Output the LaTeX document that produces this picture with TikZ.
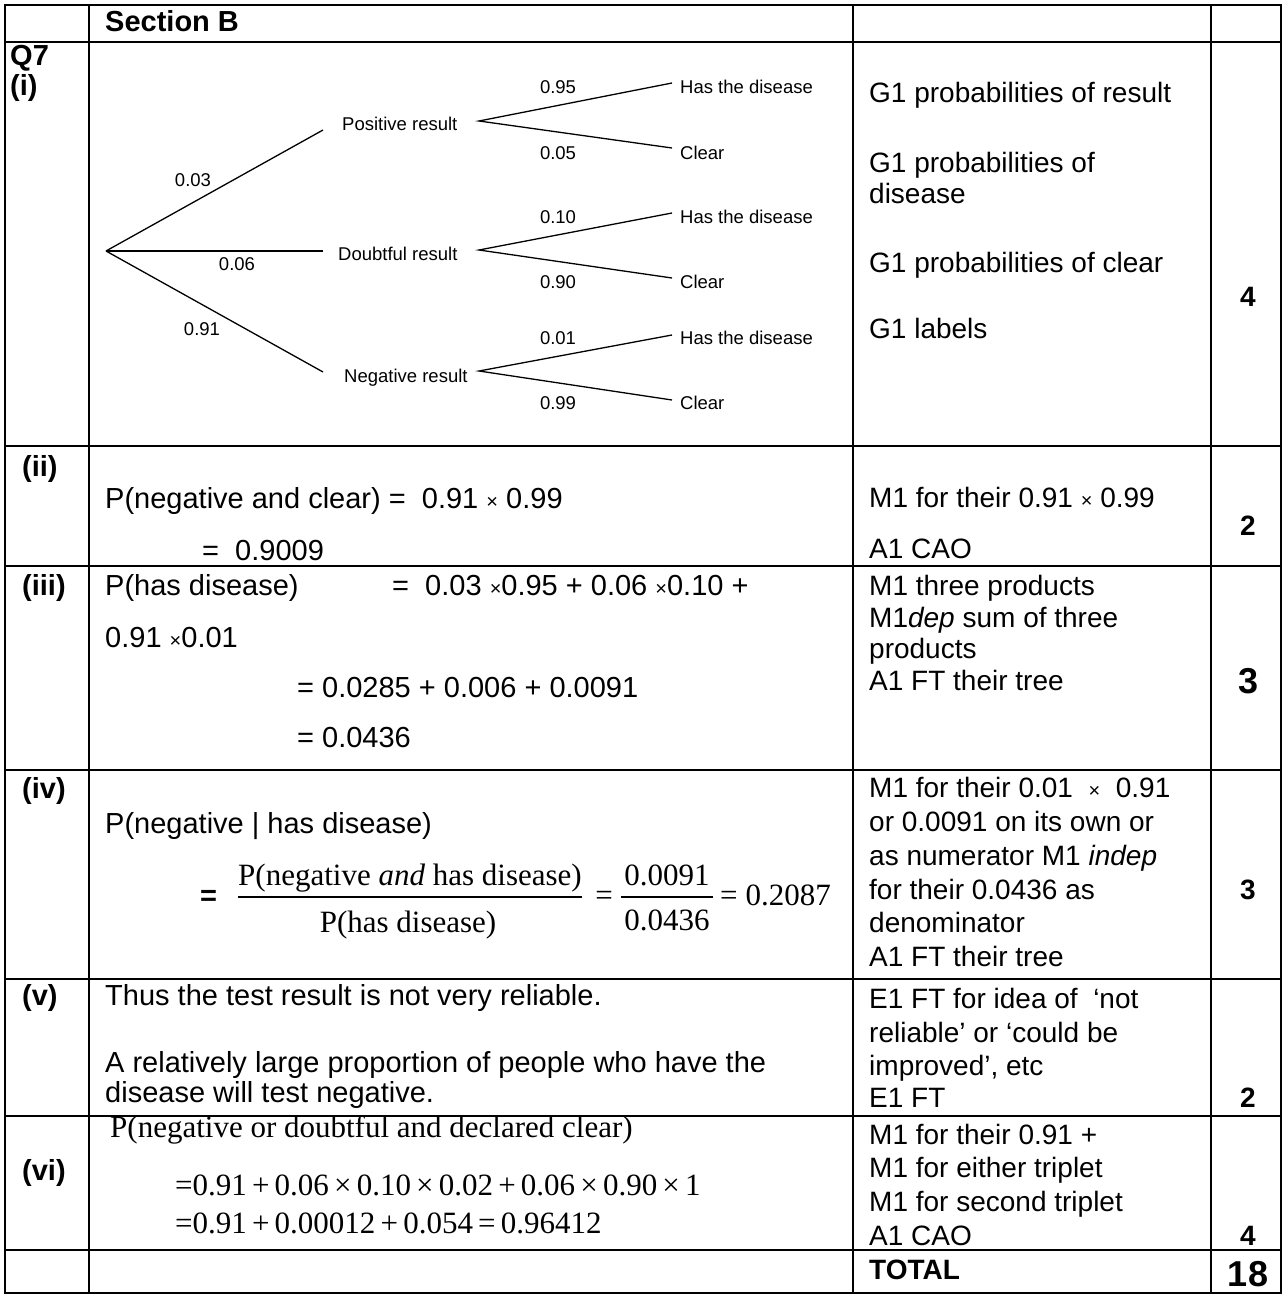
\documentclass[tikz,border=0pt]{standalone}
\usepackage{fontspec}
\setmainfont{Liberation Sans}
\newfontfamily\tms{Liberation Serif}
\begin{document}
\begin{tikzpicture}[x=1pt,y=-1pt,
  grid/.style={line width=2.2pt},
  br/.style={line width=1.3pt},
  fbar/.style={line width=1.3pt},
  tl/.style={anchor=base west,inner sep=0pt,font=\fontsize{29}{34}\selectfont},
  tb/.style={anchor=base west,inner sep=0pt,font=\fontsize{29}{34}\selectfont\bfseries},
  rt/.style={anchor=base west,inner sep=0pt,font=\fontsize{28}{33}\selectfont},
  mk/.style={anchor=base,inner sep=0pt,font=\fontsize{28}{33}\selectfont\bfseries},
  mkbig/.style={anchor=base,inner sep=0pt,font=\fontsize{36}{38}\selectfont\bfseries},
  tr/.style={anchor=base west,inner sep=0pt,font=\fontsize{18.5}{22}\selectfont},
  pr/.style={anchor=base,inner sep=0pt,font=\fontsize{18.5}{22}\selectfont},
  tm/.style={anchor=base west,inner sep=0pt,font=\fontsize{31}{36}\tms},
]
\fill[white] (0,0) rectangle (1284,1295);
\useasboundingbox (0,0) rectangle (1284,1295);
% table grid
\foreach \yy in {5,42,446,566,770,979,1116,1250,1293}
  \draw[grid] (4,\yy) -- (1282,\yy);
\foreach \xx in {5,89,853,1211,1281}
  \draw[grid] (\xx,4) -- (\xx,1294);
% headings
\node[tb] (secb) at (105,32) {Section B};
\node[tb] (q7) at (10,66) {Q7};
\node[tb] (qi) at (10,96) {(i)};
\node[tb] (qii) at (22,476) {(ii)};
\node[tb] (qiii) at (22,595) {(iii)};
\node[tb] (qiv) at (22,798) {(iv)};
\node[tb] (qv) at (22,1005) {(v)};
\node[tb] (qvi) at (22,1180) {(vi)};
% tree
\coordinate (root) at (106,251);
\coordinate (pe) at (323,130);
\coordinate (de) at (323,251);
\coordinate (ne) at (323,372);
\coordinate (pf) at (479,121);
\coordinate (df) at (479,250);
\coordinate (nf) at (479,371);
\coordinate (p1) at (672,83);
\coordinate (p2) at (672,148);
\coordinate (d1) at (672,213);
\coordinate (d2) at (672,278);
\coordinate (n1) at (672,335);
\coordinate (n2) at (672,400);
\draw[br] (root) -- (pe);
\draw[br] (root) -- (de);
\draw[br] (root) -- (ne);
\draw[br] (p1) -- (pf) -- (p2);
\draw[br] (d1) -- (df) -- (d2);
\draw[br] (n1) -- (nf) -- (n2);
\node[tr] (pos) at (342,131) {Positive result};
\node[tr] (dou) at (338,260) {Doubtful result};
\node[tr] (neg) at (344,382) {Negative result};
\node[pr] (l03) at (193,186) {0.03};
\node[pr] (l06) at (237,270) {0.06};
\node[pr] (l91) at (202,335) {0.91};
\node[pr] (l95) at (558,94) {0.95};
\node[pr] (l05) at (558,159) {0.05};
\node[pr] (l10) at (558,223) {0.10};
\node[pr] (l90) at (558,288) {0.90};
\node[pr] (l01) at (558,344) {0.01};
\node[pr] (l99) at (558,409) {0.99};
\node[tr] (hd1) at (680,94) {Has the disease};
\node[tr] (cl1) at (680,159) {Clear};
\node[tr] (hd2) at (680,223) {Has the disease};
\node[tr] (cl2) at (680,288) {Clear};
\node[tr] (hd3) at (680,344) {Has the disease};
\node[tr] (cl3) at (680,409) {Clear};
% row (i) marks
\node[rt] (g1) at (869,103) {G1 probabilities of result};
\node[rt] (g2) at (869,172) {G1 probabilities of};
\node[rt] (g2b) at (869,203) {disease};
\node[rt] (g3) at (869,272) {G1 probabilities of clear};
\node[rt] (g4) at (869,338) {G1 labels};
\node[mk] (m1) at (1248,306) {4};
% row (ii)
\node[tl] (a2a) at (105,508) {P(negative and clear) =\ \ 0.91 {\fontsize{20}{24}\selectfont×}\ 0.99};
\node[tl] (a2b) at (202,560) {=\ \ 0.9009};
\node[rt] (r2a) at (869,507) {M1 for their 0.91 {\fontsize{20}{24}\selectfont×}\ 0.99};
\node[rt] (r2b) at (869,558) {A1 CAO};
\node[mk] (m2) at (1248,535) {2};
% row (iii)
\node[tl] (a3a) at (105,595) {P(has disease)};
\node[tl] (a3b) at (392,595) {=\ \ 0.03 {\fontsize{20}{24}\selectfont×}0.95 + 0.06 {\fontsize{20}{24}\selectfont×}0.10 +};
\node[tl] (a3c) at (105,647) {0.91 {\fontsize{20}{24}\selectfont×}0.01};
\node[tl] (a3d) at (297,697) {= 0.0285 + 0.006 + 0.0091};
\node[tl] (a3e) at (297,747) {= 0.0436};
\node[rt] (r3a) at (869,595) {M1 three products};
\node[rt] (r3b) at (869,627) {M1\textit{dep} sum of three};
\node[rt] (r3c) at (869,658) {products};
\node[rt] (r3d) at (869,690) {A1 FT their tree};
\node[mkbig] (m3) at (1248,693) {3};
% row (iv)
\node[tl] (a4a) at (105,833) {P(negative | has disease)};
\node[tb] (a4eq) at (200,905) {=};
\node[tm,anchor=base] (f1n) at (410,885) {P(negative \textit{and} has disease)};
\node[tm,anchor=base] (f1d) at (408,932) {P(has disease)};
\draw[fbar] ([yshift=-12pt]f1n.base west) -- ([yshift=-12pt]f1n.base east);
\node[tm,anchor=base] (eqa) at (604,905) {=};
\node[tm,anchor=base] (f2n) at (667,885) {0.0091};
\node[tm,anchor=base] (f2d) at (667,930) {0.0436};
\draw[fbar] ([xshift=-3pt,yshift=-12pt]f2n.base west) -- ([xshift=3pt,yshift=-12pt]f2n.base east);
\node[tm] (res) at (720,905) {=\hspace{8pt}0.2087};
\node[rt] (r4a) at (869,797) {M1 for their 0.01 \ {\fontsize{20}{24}\selectfont×}\ \ 0.91};
\node[rt] (r4b) at (869,831) {or 0.0091 on its own or};
\node[rt] (r4c) at (869,865) {as numerator M1 \textit{indep}};
\node[rt] (r4d) at (869,899) {for their 0.0436 as};
\node[rt] (r4e) at (869,932) {denominator};
\node[rt] (r4f) at (869,966) {A1 FT their tree};
\node[mk] (m4) at (1248,899) {3};
% row (v)
\node[tl] (a5a) at (105,1005) {Thus the test result is not very reliable.};
\node[tl] (a5b) at (105,1072) {A relatively large proportion of people who have the};
\node[tl] (a5c) at (105,1102) {disease will test negative.};
\node[rt] (r5a) at (869,1008) {E1 FT for idea of \ ‘not};
\node[rt] (r5b) at (869,1042) {reliable’ or ‘could be};
\node[rt] (r5c) at (869,1075) {improved’, etc};
\node[rt] (r5d) at (869,1107) {E1 FT};
\node[mk] (m5) at (1248,1107) {2};
% row (vi)
\node[tm] (a6a) at (110,1137) {P(negative or doubtful and declared clear)};
\node[tm] (a6b) at (175,1195) {=0.91\,+\,0.06\,×\,0.10\,×\,0.02\,+\,0.06\,×\,0.90\,×\,1};
\node[tm] (a6c) at (175,1233) {=0.91\,+\,0.00012\,+\,0.054\,=\,0.96412};
\node[rt] (r6a) at (869,1144) {M1 for their 0.91 +};
\node[rt] (r6b) at (869,1177) {M1 for either triplet};
\node[rt] (r6c) at (869,1211) {M1 for second triplet};
\node[rt] (r6d) at (869,1245) {A1 CAO};
\node[mk] (m6) at (1248,1245) {4};
% total
\node[rt,font=\fontsize{28}{33}\selectfont\bfseries] (tot) at (869,1279) {TOTAL};
\node[mkbig] (m7) at (1248,1286) {18};
\end{tikzpicture}
\end{document}
